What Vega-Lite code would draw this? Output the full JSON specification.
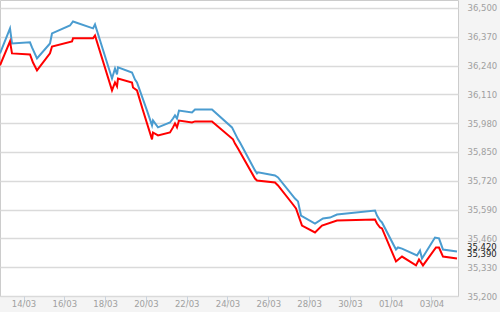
{
  "$schema": "https://vega.github.io/schema/vega-lite/v6.json",
  "width": 458,
  "height": 296,
  "autosize": "none",
  "padding": {"left": 0, "top": 0, "right": 42, "bottom": 16},
  "background": "#f4f4f4",
  "config": {
    "view": {"fill": "white", "stroke": "#cccccc", "strokeWidth": 1},
    "font": "DejaVu Sans"
  },
  "datasets": {
    "series": [
      {"s": "sell", "t": "2013-03-12T20:21", "v": 36295},
      {"s": "sell", "t": "2013-03-13T08:07", "v": 36408},
      {"s": "sell", "t": "2013-03-13T10:28", "v": 36340},
      {"s": "sell", "t": "2013-03-14T07:38", "v": 36345},
      {"s": "sell", "t": "2013-03-14T10:00", "v": 36322},
      {"s": "sell", "t": "2013-03-14T15:53", "v": 36272},
      {"s": "sell", "t": "2013-03-15T07:10", "v": 36340},
      {"s": "sell", "t": "2013-03-15T09:32", "v": 36385},
      {"s": "sell", "t": "2013-03-16T06:42", "v": 36421},
      {"s": "sell", "t": "2013-03-16T10:14", "v": 36439},
      {"s": "sell", "t": "2013-03-17T09:46", "v": 36408},
      {"s": "sell", "t": "2013-03-17T12:07", "v": 36426},
      {"s": "sell", "t": "2013-03-18T08:07", "v": 36182},
      {"s": "sell", "t": "2013-03-18T11:39", "v": 36227},
      {"s": "sell", "t": "2013-03-18T14:00", "v": 36200},
      {"s": "sell", "t": "2013-03-18T15:11", "v": 36232},
      {"s": "sell", "t": "2013-03-19T07:39", "v": 36209},
      {"s": "sell", "t": "2013-03-19T11:11", "v": 36177},
      {"s": "sell", "t": "2013-03-19T13:32", "v": 36164},
      {"s": "sell", "t": "2013-03-20T01:18", "v": 36037},
      {"s": "sell", "t": "2013-03-20T07:11", "v": 35970},
      {"s": "sell", "t": "2013-03-20T08:21", "v": 35992},
      {"s": "sell", "t": "2013-03-20T14:14", "v": 35961},
      {"s": "sell", "t": "2013-03-21T04:21", "v": 35983},
      {"s": "sell", "t": "2013-03-21T07:53", "v": 36001},
      {"s": "sell", "t": "2013-03-21T10:14", "v": 36015},
      {"s": "sell", "t": "2013-03-21T12:35", "v": 36001},
      {"s": "sell", "t": "2013-03-21T14:56", "v": 36037},
      {"s": "sell", "t": "2013-03-22T06:14", "v": 36028},
      {"s": "sell", "t": "2013-03-22T09:46", "v": 36042},
      {"s": "sell", "t": "2013-03-23T05:46", "v": 36042},
      {"s": "sell", "t": "2013-03-24T05:17", "v": 35961},
      {"s": "sell", "t": "2013-03-24T08:49", "v": 35934},
      {"s": "sell", "t": "2013-03-24T12:21", "v": 35907},
      {"s": "sell", "t": "2013-03-24T14:42", "v": 35893},
      {"s": "sell", "t": "2013-03-25T08:21", "v": 35767},
      {"s": "sell", "t": "2013-03-25T10:42", "v": 35753},
      {"s": "sell", "t": "2013-03-25T11:53", "v": 35758},
      {"s": "sell", "t": "2013-03-26T07:53", "v": 35744},
      {"s": "sell", "t": "2013-03-26T11:25", "v": 35735},
      {"s": "sell", "t": "2013-03-27T07:25", "v": 35640},
      {"s": "sell", "t": "2013-03-27T10:56", "v": 35627},
      {"s": "sell", "t": "2013-03-27T14:28", "v": 35563},
      {"s": "sell", "t": "2013-03-28T06:56", "v": 35527},
      {"s": "sell", "t": "2013-03-28T16:21", "v": 35550},
      {"s": "sell", "t": "2013-03-29T00:35", "v": 35554},
      {"s": "sell", "t": "2013-03-29T08:49", "v": 35568},
      {"s": "sell", "t": "2013-03-31T05:32", "v": 35586},
      {"s": "sell", "t": "2013-03-31T07:53", "v": 35563},
      {"s": "sell", "t": "2013-03-31T11:25", "v": 35541},
      {"s": "sell", "t": "2013-03-31T13:46", "v": 35532},
      {"s": "sell", "t": "2013-04-01T06:14", "v": 35410},
      {"s": "sell", "t": "2013-04-01T08:35", "v": 35419},
      {"s": "sell", "t": "2013-04-01T13:18", "v": 35414},
      {"s": "sell", "t": "2013-04-02T06:56", "v": 35383},
      {"s": "sell", "t": "2013-04-02T10:28", "v": 35405},
      {"s": "sell", "t": "2013-04-02T12:49", "v": 35369},
      {"s": "sell", "t": "2013-04-03T04:07", "v": 35464},
      {"s": "sell", "t": "2013-04-03T08:49", "v": 35460},
      {"s": "sell", "t": "2013-04-03T13:32", "v": 35410},
      {"s": "sell", "t": "2013-04-04T06:00", "v": 35401},
      {"s": "buy", "t": "2013-03-12T20:21", "v": 36241},
      {"s": "buy", "t": "2013-03-13T08:07", "v": 36349},
      {"s": "buy", "t": "2013-03-13T10:28", "v": 36295},
      {"s": "buy", "t": "2013-03-14T07:38", "v": 36290},
      {"s": "buy", "t": "2013-03-14T11:10", "v": 36254},
      {"s": "buy", "t": "2013-03-14T15:53", "v": 36218},
      {"s": "buy", "t": "2013-03-15T07:10", "v": 36295},
      {"s": "buy", "t": "2013-03-15T09:32", "v": 36326},
      {"s": "buy", "t": "2013-03-16T09:04", "v": 36349},
      {"s": "buy", "t": "2013-03-16T10:14", "v": 36363},
      {"s": "buy", "t": "2013-03-17T09:46", "v": 36363},
      {"s": "buy", "t": "2013-03-17T12:07", "v": 36376},
      {"s": "buy", "t": "2013-03-18T08:07", "v": 36128},
      {"s": "buy", "t": "2013-03-18T11:39", "v": 36164},
      {"s": "buy", "t": "2013-03-18T14:00", "v": 36146},
      {"s": "buy", "t": "2013-03-18T15:11", "v": 36182},
      {"s": "buy", "t": "2013-03-19T07:39", "v": 36164},
      {"s": "buy", "t": "2013-03-19T08:49", "v": 36141},
      {"s": "buy", "t": "2013-03-19T13:32", "v": 36128},
      {"s": "buy", "t": "2013-03-19T20:35", "v": 36037},
      {"s": "buy", "t": "2013-03-20T07:11", "v": 35907},
      {"s": "buy", "t": "2013-03-20T08:21", "v": 35938},
      {"s": "buy", "t": "2013-03-20T14:14", "v": 35925},
      {"s": "buy", "t": "2013-03-21T04:21", "v": 35938},
      {"s": "buy", "t": "2013-03-21T07:53", "v": 35961},
      {"s": "buy", "t": "2013-03-21T10:14", "v": 35979},
      {"s": "buy", "t": "2013-03-21T12:35", "v": 35961},
      {"s": "buy", "t": "2013-03-21T14:56", "v": 35992},
      {"s": "buy", "t": "2013-03-22T06:14", "v": 35983},
      {"s": "buy", "t": "2013-03-22T09:46", "v": 35988},
      {"s": "buy", "t": "2013-03-23T05:46", "v": 35988},
      {"s": "buy", "t": "2013-03-24T06:28", "v": 35907},
      {"s": "buy", "t": "2013-03-24T08:49", "v": 35888},
      {"s": "buy", "t": "2013-03-24T12:21", "v": 35866},
      {"s": "buy", "t": "2013-03-25T08:21", "v": 35730},
      {"s": "buy", "t": "2013-03-25T10:42", "v": 35721},
      {"s": "buy", "t": "2013-03-26T07:53", "v": 35712},
      {"s": "buy", "t": "2013-03-26T11:25", "v": 35699},
      {"s": "buy", "t": "2013-03-27T05:04", "v": 35613},
      {"s": "buy", "t": "2013-03-27T08:35", "v": 35595},
      {"s": "buy", "t": "2013-03-27T15:39", "v": 35518},
      {"s": "buy", "t": "2013-03-28T06:56", "v": 35487},
      {"s": "buy", "t": "2013-03-28T15:11", "v": 35518},
      {"s": "buy", "t": "2013-03-29T08:49", "v": 35541},
      {"s": "buy", "t": "2013-03-31T05:32", "v": 35545},
      {"s": "buy", "t": "2013-03-31T07:53", "v": 35527},
      {"s": "buy", "t": "2013-03-31T11:25", "v": 35509},
      {"s": "buy", "t": "2013-03-31T13:46", "v": 35505},
      {"s": "buy", "t": "2013-04-01T06:14", "v": 35356},
      {"s": "buy", "t": "2013-04-01T13:18", "v": 35378},
      {"s": "buy", "t": "2013-04-02T05:46", "v": 35338},
      {"s": "buy", "t": "2013-04-02T09:17", "v": 35365},
      {"s": "buy", "t": "2013-04-02T14:00", "v": 35338},
      {"s": "buy", "t": "2013-04-03T05:17", "v": 35419},
      {"s": "buy", "t": "2013-04-03T08:49", "v": 35419},
      {"s": "buy", "t": "2013-04-03T13:32", "v": 35378},
      {"s": "buy", "t": "2013-04-04T06:00", "v": 35369}
    ],
    "last": [
      {"s": "sell", "t": "2013-04-04T06:00", "v": 35420},
      {"s": "buy", "t": "2013-04-04T06:00", "v": 35390}
    ]
  },
  "encoding": {
    "x": {
      "field": "t",
      "type": "temporal",
      "scale": {
        "domain": [
          {"year": 2013, "month": 3, "date": 12, "hours": 20, "minutes": 21},
          {"year": 2013, "month": 4, "date": 4, "hours": 7, "minutes": 11}
        ]
      },
      "axis": {
        "title": null,
        "format": "%d/%m",
        "values": [
          {"year": 2013, "month": 3, "date": 14},
          {"year": 2013, "month": 3, "date": 16},
          {"year": 2013, "month": 3, "date": 18},
          {"year": 2013, "month": 3, "date": 20},
          {"year": 2013, "month": 3, "date": 22},
          {"year": 2013, "month": 3, "date": 24},
          {"year": 2013, "month": 3, "date": 26},
          {"year": 2013, "month": 3, "date": 28},
          {"year": 2013, "month": 3, "date": 30},
          {"year": 2013, "month": 4, "date": 1},
          {"year": 2013, "month": 4, "date": 3}
        ],
        "grid": false,
        "domain": false,
        "ticks": true,
        "tickSize": 6,
        "tickColor": "#c9d3de",
        "labelPadding": -2.5,
        "labelFontSize": 8.5,
        "labelColor": "#a0a0a0",
        "labelFlush": false,
        "labelOverlap": false
      }
    },
    "y": {
      "field": "v",
      "type": "quantitative",
      "scale": {"domain": [35200, 36536], "nice": false, "zero": false},
      "axis": {
        "title": null,
        "orient": "right",
        "values": [35200, 35330, 35460, 35590, 35720, 35850, 35980, 36110, 36240, 36370, 36500],
        "format": ",d",
        "grid": true,
        "gridColor": "#dadada",
        "gridWidth": 1.5,
        "domain": false,
        "ticks": false,
        "labelPadding": 9,
        "labelFontSize": 8.5,
        "labelColor": "#a0a0a0",
        "labelFlush": false,
        "labelOverlap": false,
        "labelBound": false
      }
    },
    "color": {
      "field": "s",
      "type": "nominal",
      "scale": {"domain": ["sell", "buy"], "range": ["#4a9cd0", "#ff0000"]},
      "legend": null
    }
  },
  "layer": [
    {
      "data": {"name": "series"},
      "mark": {"type": "line", "strokeWidth": 2}
    },
    {
      "data": {"name": "last"},
      "mark": {"type": "text", "align": "left", "baseline": "middle", "dx": 10, "fontSize": 8.5, "fill": "#222222"},
      "encoding": {
        "text": {"field": "v", "type": "quantitative", "format": ",d"},
        "color": {"value": "#222222"}
      }
    }
  ]
}
